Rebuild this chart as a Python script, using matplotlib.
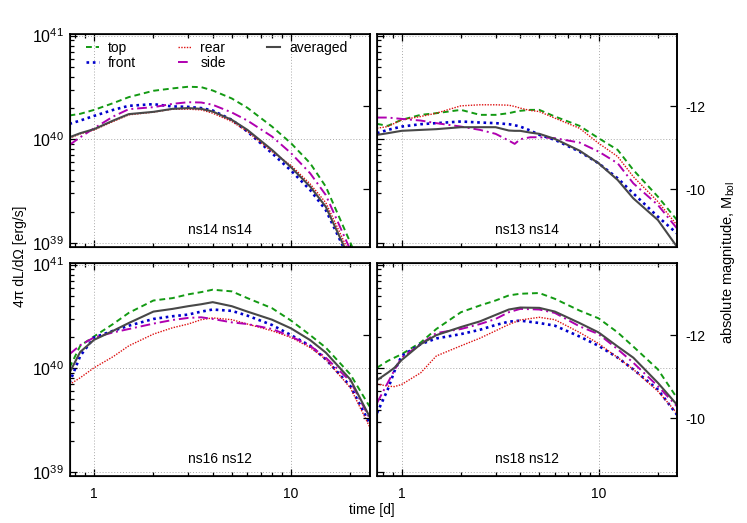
import numpy as np
import matplotlib
matplotlib.use("Agg")
import matplotlib.pyplot as plt
from matplotlib.ticker import LogLocator, NullFormatter, FuncFormatter, FixedLocator, NullLocator

plt.rcParams["font.family"] = ["Liberation Sans", "DejaVu Sans"]
plt.rcParams["mathtext.fontset"] = "custom"
plt.rcParams["mathtext.rm"] = "Liberation Sans"
plt.rcParams["mathtext.it"] = "Liberation Sans:italic"
plt.rcParams["font.size"] = 10

# time since merger [d]; values are log10 of 4pi dL/dOmega [erg/s]
t_ns14_ns14 = [0.75, 0.85, 1, 1.25, 1.5, 2, 2.5, 3, 3.5, 4, 5, 6, 8, 10, 12.5, 15, 20, 25]
ns14_ns14_top = [40.229, 40.245, 40.283, 40.348, 40.406, 40.467, 40.490, 40.506, 40.502, 40.470,
                 40.393, 40.303, 40.122, 39.961, 39.768, 39.543, 39.002, 38.576]
ns14_ns14_front = [40.148, 40.180, 40.225, 40.283, 40.322, 40.338, 40.316, 40.312, 40.300, 40.277,
                   40.187, 40.074, 39.865, 39.697, 39.510, 39.317, 38.818, 38.512]
ns14_ns14_rear = [40.010, 40.052, 40.090, 40.171, 40.235, 40.261, 40.290, 40.290, 40.283, 40.251,
                  40.171, 40.074, 39.881, 39.746, 39.568, 39.388, 38.882, 38.544]
ns14_ns14_side = [39.945, 40.019, 40.106, 40.219, 40.290, 40.309, 40.341, 40.357, 40.354, 40.332,
                  40.258, 40.180, 40.026, 39.865, 39.671, 39.462, 38.931, 38.576]
ns14_ns14_avg = [40.019, 40.058, 40.097, 40.180, 40.242, 40.264, 40.293, 40.300, 40.293, 40.267,
                 40.187, 40.090, 39.897, 39.729, 39.543, 39.349, 38.834, 38.512]

t_ns13_ns14 = [0.75, 0.85, 1, 1.25, 1.5, 2, 2.5, 3, 3.5, 3.75, 4, 4.5, 5, 6, 8, 10, 12.5, 15, 20, 25]
ns13_ns14_top = [40.148, 40.129, 40.187, 40.235, 40.251, 40.283, 40.235, 40.235, 40.251, 40.264,
                 40.274, 40.283, 40.283, 40.219, 40.129, 40.010, 39.897, 39.704, 39.446, 39.221]
ns13_ns14_front = [40.058, 40.090, 40.122, 40.145, 40.155, 40.171, 40.161, 40.155, 40.145, 40.135,
                   40.122, 40.084, 40.042, 39.994, 39.881, 39.768, 39.623, 39.478, 39.253, 39.092]
ns13_ns14_rear = [40.106, 40.122, 40.187, 40.219, 40.251, 40.322, 40.332, 40.332, 40.328, 40.316,
                  40.300, 40.277, 40.267, 40.203, 40.106, 39.961, 39.833, 39.639, 39.398, 39.172]
ns13_ns14_side = [40.209, 40.209, 40.196, 40.180, 40.155, 40.122, 40.090, 40.052, 39.987, 39.955,
                  40.000, 40.019, 40.019, 40.010, 39.968, 39.881, 39.768, 39.575, 39.366, 39.140]
ns13_ns14_avg = [40.042, 40.058, 40.081, 40.090, 40.097, 40.116, 40.116, 40.116, 40.084, 40.081,
                 40.081, 40.064, 40.052, 40.003, 39.890, 39.768, 39.607, 39.430, 39.221, 38.963]

t_ns16_ns12 = [0.75, 0.85, 1, 1.25, 1.5, 2, 2.5, 3, 3.5, 4, 5, 6, 8, 10, 12.5, 15, 20, 25]
ns16_ns12_top = [40.005, 40.216, 40.307, 40.427, 40.534, 40.653, 40.676, 40.712, 40.734, 40.757,
                 40.741, 40.676, 40.579, 40.459, 40.319, 40.199, 39.940, 39.632]
ns16_ns12_front = [39.859, 40.118, 40.297, 40.361, 40.410, 40.475, 40.501, 40.517, 40.546, 40.566,
                   40.553, 40.507, 40.417, 40.319, 40.216, 40.086, 39.827, 39.470]
ns16_ns12_rear = [39.843, 39.908, 40.005, 40.112, 40.216, 40.329, 40.390, 40.426, 40.468, 40.485,
                  40.468, 40.426, 40.361, 40.297, 40.199, 40.086, 39.810, 39.438]
ns16_ns12_side = [40.135, 40.222, 40.297, 40.345, 40.378, 40.430, 40.465, 40.485, 40.491, 40.475,
                  40.442, 40.426, 40.378, 40.306, 40.216, 40.102, 39.875, 39.519]
ns16_ns12_avg = [39.956, 40.157, 40.274, 40.361, 40.436, 40.546, 40.572, 40.598, 40.617, 40.637,
                 40.598, 40.546, 40.468, 40.384, 40.271, 40.151, 39.891, 39.535]

t_ns18_ns12 = [0.75, 0.85, 0.92, 1, 1.25, 1.5, 2, 2.5, 3, 3.5, 4, 5, 6, 8, 10, 12.5, 15, 20, 25]
ns18_ns12_top = [40.005, 40.070, 40.102, 40.135, 40.248, 40.378, 40.540, 40.605, 40.653, 40.702,
                 40.718, 40.725, 40.669, 40.556, 40.481, 40.345, 40.209, 39.989, 39.713]
ns18_ns12_front = [39.567, 39.794, 39.972, 40.118, 40.232, 40.287, 40.329, 40.371, 40.417, 40.449,
                   40.459, 40.436, 40.410, 40.306, 40.216, 40.102, 39.989, 39.794, 39.551]
ns18_ns12_rear = [39.849, 39.827, 39.823, 39.843, 39.956, 40.118, 40.216, 40.290, 40.361, 40.422,
                  40.465, 40.491, 40.468, 40.345, 40.238, 40.102, 39.989, 39.778, 39.567]
ns18_ns12_side = [39.665, 39.859, 39.982, 40.102, 40.232, 40.339, 40.378, 40.426, 40.475, 40.540,
                  40.572, 40.566, 40.533, 40.404, 40.329, 40.183, 40.053, 39.827, 39.632]
ns18_ns12_avg = [39.885, 39.956, 40.005, 40.079, 40.232, 40.319, 40.397, 40.452, 40.514, 40.566,
                 40.585, 40.582, 40.546, 40.436, 40.345, 40.209, 40.102, 39.859, 39.648]

panel_names = ["ns14 ns14", "ns13 ns14", "ns16 ns12", "ns18 ns12"]
series_labels = ["top", "front", "rear", "side", "averaged"]
mag_ticks = [-12, -10]

panels = [
    (t_ns14_ns14, [ns14_ns14_top, ns14_ns14_front, ns14_ns14_rear, ns14_ns14_side, ns14_ns14_avg]),
    (t_ns13_ns14, [ns13_ns14_top, ns13_ns14_front, ns13_ns14_rear, ns13_ns14_side, ns13_ns14_avg]),
    (t_ns16_ns12, [ns16_ns12_top, ns16_ns12_front, ns16_ns12_rear, ns16_ns12_side, ns16_ns12_avg]),
    (t_ns18_ns12, [ns18_ns12_top, ns18_ns12_front, ns18_ns12_rear, ns18_ns12_side, ns18_ns12_avg]),
]

styles = [
    dict(color="#139a13", ls=(0, (3, 2)), lw=1.4),
    dict(color="#0000cc", ls=(0, (1, 1.4)), lw=1.9),
    dict(color="#dd1111", ls=(0, (1, 1)), lw=1.0),
    dict(color="#b000b0", ls=(0, (5, 2, 1, 2)), lw=1.4),
    dict(color="#484848", ls="-", lw=1.5),
]

M0 = 88.79  # M_bol = M0 - 2.5 log10(L)


def lum2mag(L):
    return M0 - 2.5 * np.log10(L)


W, H = 747, 523
fig = plt.figure(figsize=(W / 100, H / 100), dpi=100)

xs = [69.5, 377.0]
ys = [34.0, 263.0]
pw, ph = 300.0, 213.0
ylo, yhi = 10 ** 38.961, 10 ** 41.0145

for i, (t, series) in enumerate(panels):
    row, col = divmod(i, 2)
    x0, y0 = xs[col], ys[row]
    ax = fig.add_axes([x0 / W, 1 - (y0 + ph) / H, pw / W, ph / H])
    for vals, lab, st in zip(series, series_labels, styles):
        ax.plot(t, 10.0 ** np.asarray(vals), label=lab, **st)

    ax.set_xscale("log")
    ax.set_yscale("log")
    ax.set_xlim(0.75, 25)
    ax.set_ylim(ylo, yhi)

    ax.xaxis.set_major_locator(FixedLocator([1, 10]))
    ax.xaxis.set_minor_locator(LogLocator(base=10, subs=np.arange(2, 10)))
    ax.xaxis.set_minor_formatter(NullFormatter())
    ax.xaxis.set_major_formatter(FuncFormatter(lambda v, _: f"{v:g}"))
    ax.yaxis.set_major_locator(FixedLocator([1e39, 1e40, 1e41]))
    ax.yaxis.set_minor_locator(LogLocator(base=10, subs=np.arange(2, 10)))
    ax.yaxis.set_minor_formatter(NullFormatter())

    ax.tick_params(which="both", direction="in", top=True, right=False,
                   labelbottom=(row == 1), labelleft=(col == 0))
    ax.tick_params(axis="x", labelsize=10, pad=8)
    ax.tick_params(axis="y", labelsize=11.5, pad=4)
    ax.tick_params(which="major", length=5, width=0.9)
    ax.tick_params(which="minor", length=3, width=0.9)
    ax.grid(True, which="major", color="#aaaaaa", ls=(0, (1, 2)), lw=0.7)
    for sp in ax.spines.values():
        sp.set_linewidth(1.2)

    # absolute magnitude scale on the right
    ax2 = ax.twinx()
    ax2.set_ylim(lum2mag(ylo), lum2mag(yhi))
    ax2.yaxis.set_major_locator(FixedLocator(mag_ticks))
    ax2.yaxis.set_minor_locator(NullLocator())
    ax2.yaxis.set_major_formatter(FuncFormatter(lambda v, _: f"{v:g}"))
    ax2.tick_params(direction="in", length=5, width=0.9, labelsize=10, pad=6,
                    labelright=(col == 1))
    ax2.spines["right"].set_linewidth(1.2)

    ax.text(0.5, 0.08, panel_names[i], transform=ax.transAxes,
            ha="center", va="center", fontsize=10)

    if i == 0:
        ax.legend(ncol=3, loc="upper left", bbox_to_anchor=(0.055, 0.968),
                  frameon=False, borderpad=0, borderaxespad=0,
                  handlelength=0.9, handletextpad=0.7, columnspacing=3.0,
                  labelspacing=0.1, fontsize=10)

fig.text(20 / W, 1 - 256 / H, "4π dL/dΩ [erg/s]", rotation=90,
         ha="center", va="center", fontsize=10)
fig.text(728 / W, 1 - 262 / H, "absolute magnitude, M$_{\\mathrm{bol}}$", rotation=90,
         ha="center", va="center", fontsize=10.5)
fig.text(372 / W, 1 - 510 / H, "time [d]", ha="center", va="center", fontsize=10)

fig.savefig("out.png", dpi=100)
